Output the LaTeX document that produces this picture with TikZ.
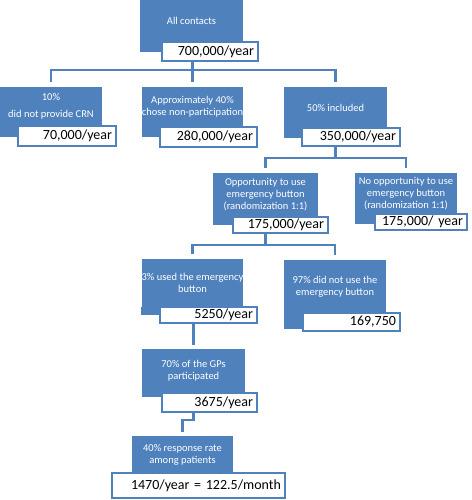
\documentclass[tikz,border=0pt]{standalone}
\usepackage{fontspec}
\setmainfont{Carlito}
\usepackage{tikz}
\usetikzlibrary{positioning}
\definecolor{boxblue}{HTML}{4F81BD}

\begin{document}
\begin{tikzpicture}[x=1pt, y=-1pt,
    box/.style={fill=boxblue, text=white, align=center, inner sep=0pt,
      font=\fontsize{10.5}{12}\selectfont},
    val/.style={draw=boxblue, line width=1.5pt, fill=white, align=right,
      inner xsep=4pt, inner ysep=0pt, text width=#1,
      font=\fontsize{14}{16}\selectfont},
    link/.style={draw=boxblue, line width=2.5pt}]
    \useasboundingbox (0,0) rectangle (471,500);

    \path (0,70) coordinate (bus-a);
    \path (0,158) coordinate (bus-b);
    \path (0,245) coordinate (bus-c);

    % top
    \node[box, minimum width=103pt, minimum height=42pt] (all) at (191.5,21) {All contacts};
    \fill[boxblue] (all.south west) rectangle ([yshift=-10pt]all.south east);
    \node[val=88pt, minimum height=19pt] (all-val) at (210,51.5) {700,000/year};

    % first split
    \node[box, minimum width=102pt, minimum height=39pt] (nocrn) at (51,106.5) {10\%\\[5pt]did not provide CRN};
    \fill[boxblue] (nocrn.south west) rectangle ([yshift=-11pt]nocrn.south east);
    \node[val=90pt, minimum height=20pt] (nocrn-val) at (67,136) {70,000/year};

    \node[box, minimum width=101pt, minimum height=40pt] (part) at (192.5,107) {Approximately 40\%\\chose non-participation};
    \fill[boxblue] (part.south west) rectangle ([yshift=-10pt]part.south east);
    \node[val=89pt, minimum height=20pt] (part-val) at (208.5,137) {280,000/year};

    \node[box, minimum width=103pt, minimum height=41pt] (incl) at (335.5,107.5) {50\% included};
    \fill[boxblue] (incl.south west) rectangle ([yshift=-10pt]incl.south east);
    \node[val=90pt, minimum height=18pt] (incl-val) at (351,137) {350,000/year};

    % randomization
    \node[box, minimum width=105pt, minimum height=44pt] (opp) at (265.5,195) {Opportunity to use\\emergency button\\(randomization 1:1)};
    \fill[boxblue] (opp.south west) rectangle ([yshift=-8pt]opp.south east);
    \node[val=87pt, minimum height=16pt] (opp-val) at (280.5,225) {175,000/year};

    \node[box, minimum width=102pt, minimum height=41pt] (noopp) at (406,193.5) {No opportunity to use\\emergency button\\(randomization 1:1)};
    \fill[boxblue] (noopp.south west) rectangle ([yshift=-10pt]noopp.south east);
    \node[val=84pt, minimum height=16pt] (noopp-val) at (421,222) {175,000/ year};

    % button use
    \node[box, minimum width=101pt, minimum height=48pt] (used) at (192.5,283) {3\% used the emergency\\button};
    \fill[boxblue] (used.south west) rectangle ([yshift=-8pt]used.south east);
    \node[val=89pt, minimum height=16pt] (used-val) at (208.5,315) {5250/year};

    \node[box, minimum width=102pt, minimum height=53pt] (notused) at (335,286.5) {97\% did not use the\\emergency button};
    \fill[boxblue] (notused.south west) rectangle ([yshift=-16pt]notused.south east);
    \node[val=89pt, minimum height=18pt] (notused-val) at (351.5,322) {169,750};

    \node[box, minimum width=103pt, minimum height=44pt] (gps) at (193.5,371) {70\% of the GPs\\participated};
    \fill[boxblue] (gps.south west) rectangle ([yshift=-4pt]gps.south east);
    \node[val=87pt, minimum height=19pt] (gps-val) at (209.5,402.5) {3675/year};

    \node[box, minimum width=101pt, minimum height=37pt] (resp) at (182.5,454.5) {40\% response rate\\among patients};
    \node[val=165pt, minimum height=25pt] (resp-val) at (198.5,485.5) {1470/year = 122.5/month};

    % connectors
    \draw[link] (all-val.south -| part.north) -- ([yshift=5pt]part.north);
    \draw[link] ([yshift=5pt]nocrn.north) -- (nocrn.north |- bus-a) -- (incl.north |- bus-a) -- ([yshift=5pt]incl.north);

    \draw[link] (incl-val.south -| incl.south) -- (incl.south |- bus-b);
    \draw[link] ([yshift=5pt]opp.north) -- (opp.north |- bus-b) -- (noopp.north |- bus-b) -- ([yshift=5pt]noopp.north);

    \draw[link] (opp-val.south -| opp.south) -- (opp.south |- bus-c);
    \draw[link] ([yshift=5pt]used.north) -- (used.north |- bus-c) -- (notused.north |- bus-c) -- ([yshift=5pt]notused.north);

    \draw[link] (used-val.south -| gps.north) -- ([yshift=4pt]gps.north);
    \draw[link] (gps-val.south -| gps.south) -- ++(0,7) -| ([yshift=4pt]resp.north);
\end{tikzpicture}
\end{document}
